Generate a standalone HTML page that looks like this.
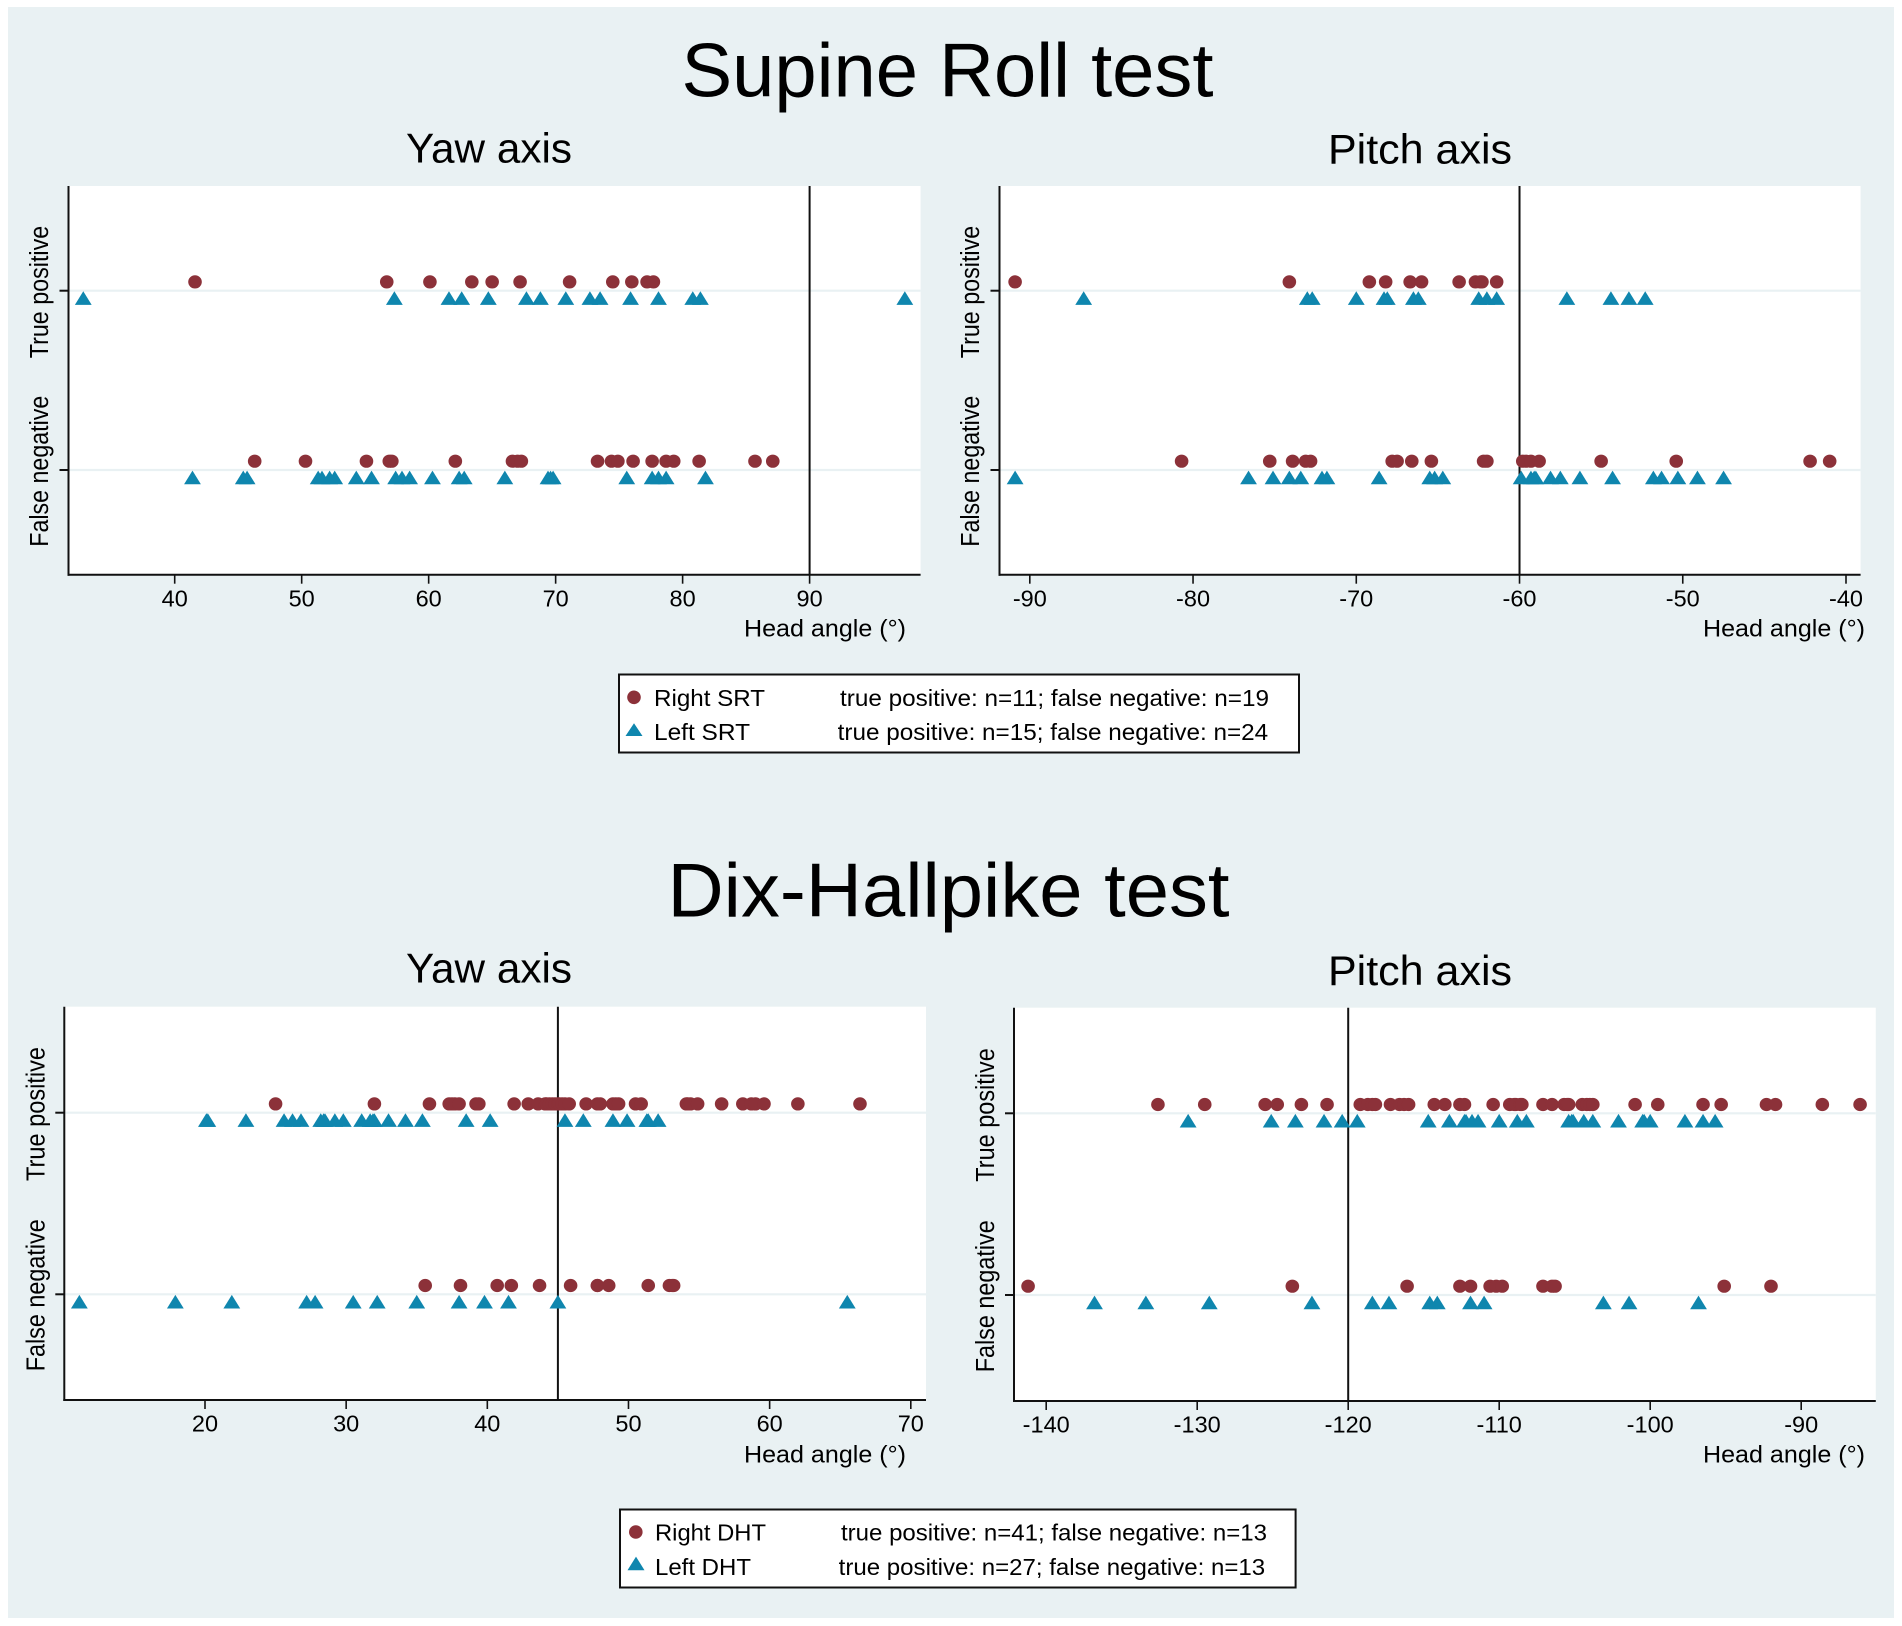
<!DOCTYPE html>
<html lang="en">
<head>
<meta charset="utf-8">
<title>Supine Roll and Dix-Hallpike test head angles</title>
<style>
html,body{margin:0;padding:0;background:#fff;width:1902px;height:1626px;overflow:hidden}
svg{display:block;font-family:"Liberation Sans",Arial,sans-serif}
</style>
</head>
<body>
<svg id="figure" xmlns="http://www.w3.org/2000/svg" width="1902" height="1626" viewBox="0 0 1902 1626">
  <rect x="8" y="7" width="1886" height="1611" fill="#e9f1f3"/>
  <text x="681.5" y="96.5" font-size="76" textLength="532" lengthAdjust="spacingAndGlyphs">Supine Roll test</text>
  <text x="667.5" y="916.5" font-size="76" textLength="562" lengthAdjust="spacingAndGlyphs">Dix-Hallpike test</text>

  <g>
    <rect x="619" y="674.5" width="680" height="78" fill="#fff" stroke="#111" stroke-width="2"/>
    <circle cx="634" cy="697.3" r="6.8" fill="#8c3139"/>
    <polygon points="634,723.2 642.5,736 625.5,736" fill="#0f86ae"/>
    <text x="654" y="706" font-size="23" textLength="111" lengthAdjust="spacingAndGlyphs">Right SRT</text>
    <text x="654" y="740" font-size="23" textLength="96" lengthAdjust="spacingAndGlyphs">Left SRT</text>
    <text x="840" y="706" font-size="23" textLength="429" lengthAdjust="spacingAndGlyphs">true positive: n=11; false negative: n=19</text>
    <text x="837.7" y="740" font-size="23" textLength="430.5" lengthAdjust="spacingAndGlyphs">true positive: n=15; false negative: n=24</text>
  </g>
  <g>
    <rect x="620" y="1509.5" width="675.6" height="78" fill="#fff" stroke="#111" stroke-width="2"/>
    <circle cx="635.8" cy="1532" r="6.8" fill="#8c3139"/>
    <polygon points="636,1556.6 644.5,1570.2 627.5,1570.2" fill="#0f86ae"/>
    <text x="655" y="1540.7" font-size="23" textLength="111" lengthAdjust="spacingAndGlyphs">Right DHT</text>
    <text x="655" y="1575" font-size="23" textLength="96" lengthAdjust="spacingAndGlyphs">Left DHT</text>
    <text x="841" y="1540.7" font-size="23" textLength="426" lengthAdjust="spacingAndGlyphs">true positive: n=41; false negative: n=13</text>
    <text x="838.7" y="1575" font-size="23" textLength="426.5" lengthAdjust="spacingAndGlyphs">true positive: n=27; false negative: n=13</text>
  </g>
</svg>
<script>
const rowLabels = ["True positive", "False negative"];

const srtYawTicks = [40, 50, 60, 70, 80, 90];
const srtYawReference = 90;
const srtYawRightTP = [41.6,56.7,60.1,63.4,65,67.2,71.1,74.5,76,77.2,77.7];
const srtYawLeftTP = [32.8,57.3,61.6,62.6,64.7,67.7,68.8,70.8,72.7,73.5,75.9,78.1,80.8,81.4,97.5];
const srtYawRightFN = [46.3,50.3,55.1,56.9,57.1,62.1,66.6,67,67.3,73.3,74.4,74.9,76.1,77.6,78.7,79.3,81.3,85.7,87.1];
const srtYawLeftFN = [41.4,45.4,45.7,51.3,51.6,52.2,52.6,54.3,55.5,57.4,57.9,58.5,60.3,62.4,62.8,66,69.4,69.6,69.8,75.6,77.6,78.1,78.7,81.8];

const srtPitchTicks = [-90, -80, -70, -60, -50, -40];
const srtPitchReference = -60;
const srtPitchRightTP = [-90.9,-74.1,-69.2,-68.2,-66.7,-66,-63.7,-62.7,-62.4,-62.3,-61.4];
const srtPitchLeftTP = [-86.7,-73,-72.7,-70,-68.3,-68.1,-66.5,-66.2,-62.5,-62,-61.4,-57.1,-54.4,-53.3,-52.3];
const srtPitchRightFN = [-80.7,-75.3,-73.9,-73.1,-72.8,-67.8,-67.5,-66.6,-65.4,-62.2,-62,-59.8,-59.6,-59.3,-58.8,-55,-50.4,-42.2,-41];
const srtPitchLeftFN = [-90.9,-76.6,-75.1,-74.1,-73.4,-72.1,-71.8,-68.6,-65.5,-65.2,-64.7,-59.9,-59.3,-59.1,-59,-58.1,-57.5,-56.3,-54.3,-51.8,-51.3,-50.3,-49.1,-47.5];

const dhtYawTicks = [20, 30, 40, 50, 60, 70];
const dhtYawReference = 45;
const dhtYawRightTP = [25,32,35.9,37.3,37.5,37.7,38,39.2,39.4,41.9,42.9,43.6,44.1,44.2,44.4,44.6,44.8,45,45.1,45.3,45.5,45.8,47,47.8,48,48.9,49.1,49.3,50.5,50.9,54.1,54.2,54.4,54.9,56.6,58.1,58.7,59,59.6,62,66.4];
const dhtYawLeftTP = [20.1,20.2,22.9,25.6,26.2,26.8,28.2,28.4,28.5,29.2,29.8,31.1,31.7,31.9,32,33,34.2,35.4,38.5,40.2,45.5,46.8,48.9,49.9,51.3,51.4,52.1];
const dhtYawRightFN = [35.6,38.1,40.7,41.7,43.7,45.9,47.8,47.8,48.6,51.4,52.9,53.1,53.2];
const dhtYawLeftFN = [11.1,17.9,21.9,27.2,27.8,30.5,32.2,35,38,39.8,41.5,45,65.5];

const dhtPitchTicks = [-140, -130, -120, -110, -100, -90];
const dhtPitchReference = -120;
const dhtPitchRightTP = [-132.6,-129.5,-125.5,-124.7,-123.1,-121.4,-119.2,-118.7,-118.4,-118.2,-117.2,-116.6,-116.3,-116,-114.3,-113.6,-112.6,-112.3,-110.4,-109.3,-109,-108.9,-108.6,-108.5,-107.1,-106.5,-105.7,-105.5,-105.4,-104.5,-104.2,-104,-103.8,-101,-99.5,-96.5,-95.3,-92.3,-91.7,-88.6,-86.1];
const dhtPitchLeftTP = [-130.6,-125.1,-123.5,-121.6,-120.4,-119.4,-114.7,-113.3,-112.3,-112.2,-111.8,-111.4,-110,-108.8,-108.2,-105.4,-105.2,-105.1,-104.4,-103.8,-102.1,-100.5,-100.4,-100,-97.7,-96.5,-95.7];
const dhtPitchRightFN = [-141.2,-123.7,-116.1,-112.6,-111.9,-110.6,-110.2,-109.8,-107.1,-106.5,-106.3,-95.1,-92];
const dhtPitchLeftFN = [-136.8,-133.4,-129.2,-122.4,-118.4,-117.3,-114.6,-114.1,-111.9,-111,-103.1,-101.4,-96.8];

const NS = "http://www.w3.org/2000/svg";
const figure = document.getElementById("figure");
const RED = "#8c3139";
const BLUE = "#0f86ae";
const INK = "#111";

function make(tag, attrs, parent) {
  const node = document.createElementNS(NS, tag);
  for (const key in attrs) node.setAttribute(key, attrs[key]);
  parent.appendChild(node);
  return node;
}

function drawPanel(p) {
  const firstTick = p.ticks[0];
  const lastTick = p.ticks[p.ticks.length - 1];
  const xScale = v => p.tickA + (v - firstTick) * (p.tickB - p.tickA) / (lastTick - firstTick);
  const yScale = row => p.rowY[row];

  const g = make("g", {}, figure);
  
  

  const title = make("text", {x: p.titleX, y: p.titleY, "font-size": 42, textLength: p.titleW, lengthAdjust: "spacingAndGlyphs"}, g);
  title.textContent = p.title;
  
  

  const plot = make("rect", {x: p.left, y: p.top, width: p.right - p.left, height: p.bottom - p.top, fill: "#fff"}, g);
  
  

  rowLabels.forEach((label, row) => {
    const grid = make("line", {x1: p.left, x2: p.right, y1: yScale(row), y2: yScale(row), stroke: "#e9f1f3", "stroke-width": 2.2}, g);
    
    

    const tick = make("line", {x1: p.left - 9, x2: p.left, y1: yScale(row), y2: yScale(row), stroke: INK, "stroke-width": 2}, g);
    
    

    const lab = make("text", {
      x: p.labelX, y: p.labelBottom[row], "font-size": 25.5,
      textLength: p.labelLen[row], lengthAdjust: "spacingAndGlyphs",
      transform: "rotate(-90 " + p.labelX + " " + p.labelBottom[row] + ")"
    }, g);
    lab.textContent = label;
    
    
  });

  const refX = xScale(p.reference);
  const refLine = make("line", {x1: refX, x2: refX, y1: p.top, y2: p.bottom, stroke: INK, "stroke-width": 2}, g);
  
  

  const drawCircles = (values, row) => values.forEach(v => {
    const c = make("ellipse", {cx: xScale(v), cy: yScale(row) - 8.8, rx: 6.8, ry: 6.6, fill: RED}, g);
    
    
  });
  const drawTriangles = (values, row) => values.forEach(v => {
    const x = xScale(v), t = yScale(row) + 0.6;
    const tri = make("polygon", {points: x + "," + t + " " + (x + 8.4) + "," + (t + 13.6) + " " + (x - 8.4) + "," + (t + 13.6), fill: BLUE}, g);
    
    
  });
  drawCircles(p.rightTP, 0);
  drawTriangles(p.leftTP, 0);
  drawCircles(p.rightFN, 1);
  drawTriangles(p.leftFN, 1);

  const yAxis = make("line", {x1: p.left, x2: p.left, y1: p.top, y2: p.bottom + 1, stroke: INK, "stroke-width": 2}, g);
  
  
  const xAxis = make("line", {x1: p.left - 1, x2: p.right, y1: p.bottom, y2: p.bottom, stroke: INK, "stroke-width": 2}, g);
  
  

  p.ticks.forEach(v => {
    const x = xScale(v);
    const tick = make("line", {x1: x, x2: x, y1: p.bottom, y2: p.bottom + 9, stroke: INK, "stroke-width": 1.6}, g);
    
    
    const lab = make("text", {x: x, y: p.tickLabelY, "font-size": 23.5, "text-anchor": "middle"}, g);
    lab.textContent = String(v);
    
    
  });

  const xTitle = make("text", {x: p.xTitleX, y: p.xTitleY, "font-size": 24.5, textLength: 162, lengthAdjust: "spacingAndGlyphs"}, g);
  xTitle.textContent = "Head angle (°)";
  
  
}

drawPanel({
  name: "srt-yaw", title: "Yaw axis", titleX: 406, titleY: 162.7, titleW: 166,
  left: 68.5, right: 920.6, top: 186, bottom: 574.7, rowY: [290.7, 470],
  tickA: 174.7, tickB: 809.6, tickLabelY: 606.7, xTitleX: 744, xTitleY: 636.7,
  labelX: 48, labelBottom: [358.3, 546.7], labelLen: [132.5, 151],
  ticks: srtYawTicks, reference: srtYawReference,
  rightTP: srtYawRightTP, leftTP: srtYawLeftTP, rightFN: srtYawRightFN, leftFN: srtYawLeftFN
});
drawPanel({
  name: "srt-pitch", title: "Pitch axis", titleX: 1328, titleY: 163.7, titleW: 184,
  left: 999.5, right: 1860.6, top: 186, bottom: 574.7, rowY: [290.7, 470],
  tickA: 1029.8, tickB: 1846, tickLabelY: 606.5, xTitleX: 1703, xTitleY: 636.7,
  labelX: 979, labelBottom: [358.3, 546.7], labelLen: [132.5, 151],
  ticks: srtPitchTicks, reference: srtPitchReference,
  rightTP: srtPitchRightTP, leftTP: srtPitchLeftTP, rightFN: srtPitchRightFN, leftFN: srtPitchLeftFN
});
drawPanel({
  name: "dht-yaw", title: "Yaw axis", titleX: 406, titleY: 982.3, titleW: 166,
  left: 64.3, right: 926, top: 1006.7, bottom: 1400, rowY: [1112.7, 1294.3],
  tickA: 205, tickB: 910.8, tickLabelY: 1431.7, xTitleX: 744, xTitleY: 1462.5,
  labelX: 44.5, labelBottom: [1181, 1371.3], labelLen: [134, 152],
  ticks: dhtYawTicks, reference: dhtYawReference,
  rightTP: dhtYawRightTP, leftTP: dhtYawLeftTP, rightFN: dhtYawRightFN, leftFN: dhtYawLeftFN
});
drawPanel({
  name: "dht-pitch", title: "Pitch axis", titleX: 1328, titleY: 985, titleW: 184,
  left: 1014, right: 1875.8, top: 1007.7, bottom: 1401, rowY: [1113.3, 1295],
  tickA: 1046.2, tickB: 1801.2, tickLabelY: 1432.5, xTitleX: 1703, xTitleY: 1462.5,
  labelX: 994, labelBottom: [1181.7, 1372.3], labelLen: [133.5, 152],
  ticks: dhtPitchTicks, reference: dhtPitchReference,
  rightTP: dhtPitchRightTP, leftTP: dhtPitchLeftTP, rightFN: dhtPitchRightFN, leftFN: dhtPitchLeftFN
});
</script>
</body>
</html>
